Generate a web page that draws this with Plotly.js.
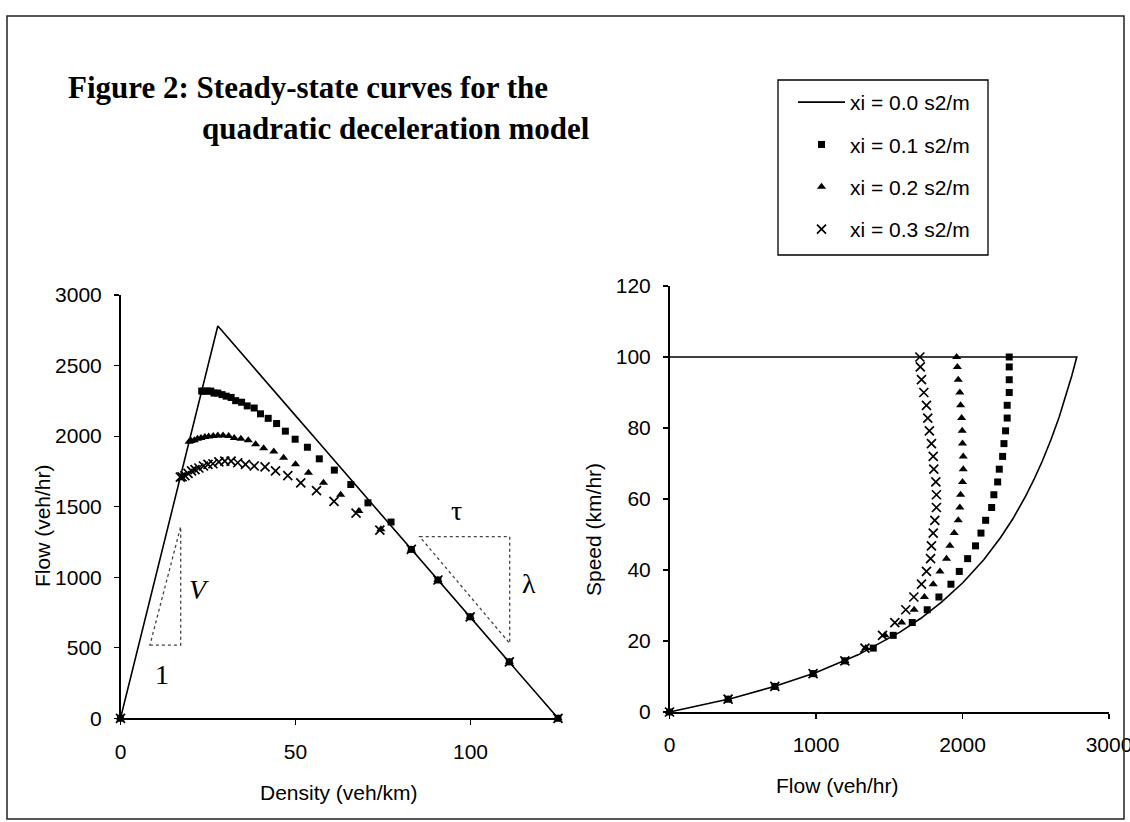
<!DOCTYPE html>
<html><head><meta charset="utf-8">
<script src="https://cdn.plot.ly/plotly-3.0.1.min.js"></script>
<style>html,body{margin:0;padding:0;background:#fff}#chart{width:1130px;height:822px}</style>
</head><body><div id="chart"></div>
<script>
// ---- series names ----
const seriesNames = ['xi = 0.0 s2/m', 'xi = 0.1 s2/m', 'xi = 0.2 s2/m', 'xi = 0.3 s2/m'];

// ---- xi = 0.0 (solid line): density (veh/km), flow (veh/hr), speed (km/hr) ----
const dens00  = [0, 27.8, 29, 30, 32, 34, 36, 38, 40, 43, 46, 50, 55, 60, 65, 70, 80, 90, 100, 110, 125];
const flow00  = [0, 2780, 2746, 2717, 2660, 2603, 2545, 2488, 2431, 2345, 2259, 2145, 2002, 1859, 1716, 1573, 1287, 1001, 715, 429, 0];
const speed00 = [100, 100, 94.7, 90.6, 83.1, 76.6, 70.7, 65.5, 60.8, 54.5, 49.1, 42.9, 36.4, 31.0, 26.4, 22.5, 16.1, 11.1, 7.2, 3.9, 0];

// ---- xi = 0.1 (squares) ----
const dens01  = [0, 23.2, 23.9, 24.8, 25.8, 26.7, 27.8, 29.0, 30.2, 31.6, 32.9, 34.6, 36.2, 38.2, 40.0, 42.2, 44.6, 47.1, 49.9, 53.4, 56.8, 61.1, 65.8, 70.7, 77.3, 83.1, 90.7, 99.9, 111.1, 125];
const flow01  = [0, 2319, 2319, 2319, 2319, 2305, 2305, 2294, 2283, 2274, 2251, 2240, 2214, 2199, 2158, 2126, 2089, 2035, 1978, 1921, 1839, 1759, 1657, 1527, 1391, 1197, 980, 719, 400, 0];
const speed01 = [null, 100, 97.2, 93.6, 90, 86.4, 82.8, 79.2, 75.6, 72, 68.4, 64.8, 61.2, 57.6, 54, 50.4, 46.8, 43.2, 39.6, 36, 32.4, 28.8, 25.2, 21.6, 18, 14.4, 10.8, 7.2, 3.6, 0];

// ---- xi = 0.2 (triangles) ----
const dens02  = [0, 19.6, 20.2, 21.1, 22.0, 23.0, 24.1, 25.2, 26.5, 27.8, 29.3, 30.9, 32.5, 34.4, 36.5, 38.6, 40.9, 43.8, 46.6, 50.0, 53.7, 58.0, 62.9, 68.1, 74.4, 83.1, 90.7, 99.9, 111.1, 125];
const flow02  = [0, 1960, 1965, 1971, 1982, 1987, 1994, 1998, 2000, 2005, 2005, 2000, 1987, 1982, 1971, 1943, 1914, 1891, 1846, 1800, 1740, 1670, 1585, 1470, 1340, 1197, 980, 719, 400, 0];
const speed02 = [null, 100, 97.2, 93.6, 90, 86.4, 82.8, 79.2, 75.6, 72, 68.4, 64.8, 61.2, 57.6, 54, 50.4, 46.8, 43.2, 39.6, 36, 32.4, 28.8, 25.2, 21.6, 18, 14.4, 10.8, 7.2, 3.6, 0];

// ---- xi = 0.3 (crosses) ----
const dens03  = [0, 17.1, 17.6, 18.4, 19.3, 20.3, 21.3, 22.4, 23.7, 25.0, 26.4, 28.1, 29.8, 31.6, 33.5, 35.7, 38.2, 41.3, 44.3, 47.8, 51.5, 56.0, 61.0, 67.3, 74.1, 83.1, 90.7, 99.9, 111.1, 125];
const flow03  = [0, 1709, 1712, 1720, 1736, 1754, 1763, 1774, 1788, 1800, 1804, 1818, 1822, 1822, 1811, 1800, 1788, 1782, 1754, 1720, 1668, 1613, 1538, 1454, 1334, 1197, 980, 719, 400, 0];
const speed03 = [null, 100, 97.2, 93.6, 90, 86.4, 82.8, 79.2, 75.6, 72, 68.4, 64.8, 61.2, 57.6, 54, 50.4, 46.8, 43.2, 39.6, 36, 32.4, 28.8, 25.2, 21.6, 18, 14.4, 10.8, 7.2, 3.6, 0];

// ---- tick values ----
const densTicks  = [0, 50, 100];
const flowTicksY = [0, 500, 1000, 1500, 2000, 2500, 3000];
const flowTicksX = [0, 1000, 2000, 3000];
const speedTicks = [0, 20, 40, 60, 80, 100, 120];

const W = 1130, H = 822;
const px = v => v / W;
const py = v => 1 - v / H;
const SANS = 'Liberation Sans, Arial, sans-serif';
const SERIF = 'Liberation Serif, Times New Roman, serif';
const FS = 21;

const markerStyles = [
  null,
  {symbol: 'square', size: 7, color: '#000'},
  {symbol: 'triangle-up', size: 8, color: '#000'},
  {symbol: 'x-thin-open', size: 9, color: '#000', line: {color: '#000', width: 1.7}}
];
const dens = [dens00, dens01, dens02, dens03];
const flow = [flow00, flow01, flow02, flow03];
const speed = [speed00, speed01, speed02, speed03];

const traces = [];
for (let i = 0; i < 4; i++) {
  const base = i === 0
    ? {mode: 'lines', line: {color: '#000', width: 1.6}}
    : {mode: 'markers', marker: markerStyles[i]};
  traces.push(Object.assign({}, base, {
    x: dens[i], y: flow[i], xaxis: 'x', yaxis: 'y', name: seriesNames[i],
    legendgroup: 'g' + i, showlegend: true, cliponaxis: false, hoverinfo: 'skip'
  }));
  traces.push(Object.assign({}, base, {
    x: flow[i], y: speed[i], xaxis: 'x2', yaxis: 'y2', name: seriesNames[i],
    legendgroup: 'g' + i, showlegend: false, cliponaxis: false, hoverinfo: 'skip'
  }));
}

const axisCommon = {
  showline: true, linecolor: '#000', linewidth: 1.5, ticks: 'outside', ticklen: 5,
  tickwidth: 1.2, tickcolor: '#000', showgrid: false, zeroline: false, fixedrange: true,
  tickfont: {family: SANS, size: FS, color: '#000'}, ticklabelstandoff: 8,
  ticklabeloverflow: 'allow'
};

const dotted = {color: '#444', width: 1.3, dash: 'dot'};
const ann = (x, y, text, font, extra) => Object.assign({
  xref: 'paper', yref: 'paper', x: x, y: y, xanchor: 'center', yanchor: 'middle',
  showarrow: false, text: text, font: font
}, extra || {});
const sansFont = {family: SANS, size: FS, color: '#000'};
const symFont = {family: SERIF, size: 28, color: '#000'};
const titleFont = {family: SERIF, size: 31, color: '#000'};

const layout = {
  width: W, height: H, margin: {l: 0, r: 0, t: 0, b: 0},
  paper_bgcolor: '#fff', plot_bgcolor: 'rgba(0,0,0,0)',
  showlegend: true,
  xaxis: Object.assign({}, axisCommon, {domain: [px(120.5), px(558)], range: [0, 125], tickvals: densTicks, anchor: 'y', linewidth: 2}),
  yaxis: Object.assign({}, axisCommon, {domain: [py(718.3), py(295)], range: [0, 3000], tickvals: flowTicksY, anchor: 'x'}),
  xaxis2: Object.assign({}, axisCommon, {domain: [px(669.5), px(1109)], range: [0, 3000], tickvals: flowTicksX, anchor: 'y2', linewidth: 2}),
  yaxis2: Object.assign({}, axisCommon, {domain: [py(712), py(286)], range: [0, 120], tickvals: speedTicks, anchor: 'x2'}),
  legend: {
    x: px(793), y: py(82), xanchor: 'left', yanchor: 'top',
    borderwidth: 0, bgcolor: 'rgba(0,0,0,0)',
    font: {family: SANS, size: FS, color: '#000'},
    traceorder: 'grouped', tracegroupgap: 12, itemwidth: 47
  },
  shapes: [
    {type: 'rect', xref: 'paper', yref: 'paper', x0: px(7), x1: px(1124), y0: py(819), y1: py(16), line: {color: '#222', width: 1.5}},
    {type: 'rect', xref: 'paper', yref: 'paper', x0: px(778), x1: px(988), y0: py(255), y1: py(80), line: {color: '#000', width: 1.3}},
    {type: 'path', xref: 'x', yref: 'y', path: 'M 8.4,519 L 17.2,519 L 17.2,1358 Z', line: dotted},
    {type: 'path', xref: 'x', yref: 'y', path: 'M 85.5,1287 L 111.2,1287 L 111.2,531 Z', line: dotted}
  ],
  annotations: [
    ann(px(66), py(88), '<b>Figure 2: Steady-state curves for the</b>', titleFont, {xanchor: 'left'}),
    ann(px(200), py(129), '<b>quadratic deceleration model</b>', titleFont, {xanchor: 'left'}),
    ann(px(339), py(792), 'Density (veh/km)', sansFont),
    ann(px(837), py(785), 'Flow (veh/hr)', sansFont),
    ann(px(42), py(526), 'Flow (veh/hr)', sansFont, {textangle: -90}),
    ann(px(593), py(530), 'Speed (km/hr)', sansFont, {textangle: -90}),
    ann(22.5, 916, '<i>V</i>', symFont, {xref: 'x', yref: 'y'}),
    ann(11.8, 307, '1', symFont, {xref: 'x', yref: 'y'}),
    ann(96.0, 1476, 'τ', symFont, {xref: 'x', yref: 'y'}),
    ann(116.7, 957, 'λ', symFont, {xref: 'x', yref: 'y'})
  ]
};

Plotly.newPlot('chart', traces, layout, {staticPlot: true, displayModeBar: false});
</script>
</body></html>
